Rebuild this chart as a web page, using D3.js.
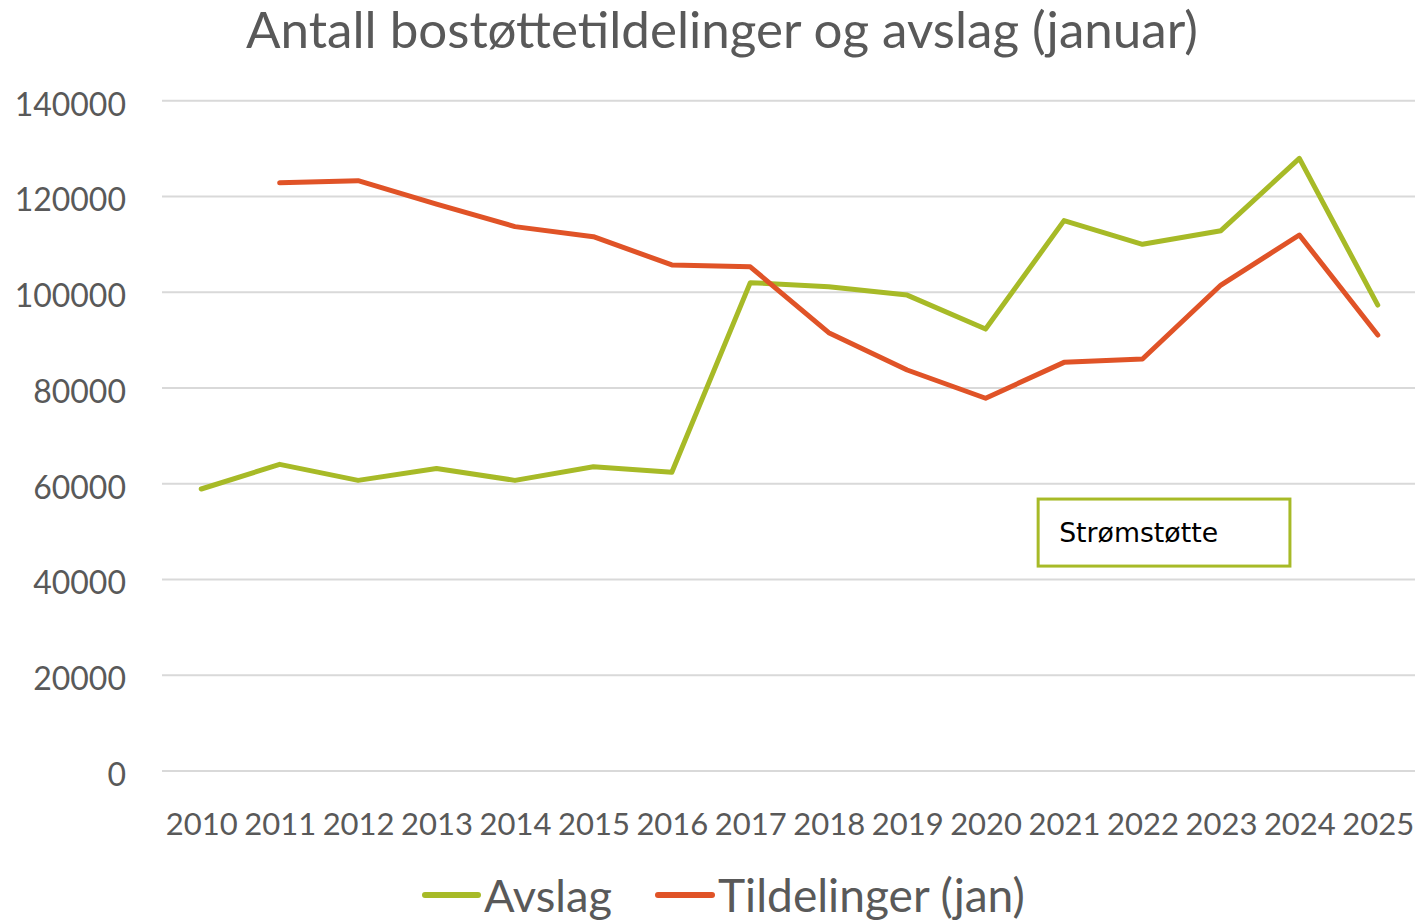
<!DOCTYPE html>
<html>
<head>
<meta charset="utf-8">
<script src="https://cdn.jsdelivr.net/npm/d3@7"></script>
<style>
  body { margin: 0; background: #fff; }
  svg { display: block; font-family: Lato, "Open Sans", sans-serif; }
  .gridlines line { stroke: #d9d9d9; stroke-width: 2; }
  .yaxis text, .xaxis text { fill: #595959; }
</style>
</head>
<body>
<div id="container"></div>
<script>
const WIDTH = 1421;
const HEIGHT = 922;

const years = ["2010", "2011", "2012", "2013", "2014", "2015", "2016", "2017",
  "2018", "2019", "2020", "2021", "2022", "2023", "2024", "2025"];
const avslag = [58900, 64050, 60700, 63200, 60700, 63550, 62400, 102000,
  101150, 99400, 92300, 114950, 110000, 112850, 127950, 97300];
const tildelinger = [null, 122850, 123300, 118400, 113700, 111600, 105700, 105300,
  91550, 83750, 77850, 85350, 86050, 101500, 111950, 91050];
const yTicks = [0, 20000, 40000, 60000, 80000, 100000, 120000, 140000];
const seriesNames = ["Avslag", "Tildelinger (jan)"];
const seriesColors = ["#a7ba27", "#e05327"];
const title = "Antall bostøttetildelinger og avslag (januar)";
const note = "Strømstøtte";

const LEFT = 162, RIGHT = 1417, TOP = 100.7, BOTTOM = 771;

const svg = d3.select("#container").append("svg")
  .attr("width", WIDTH).attr("height", HEIGHT);

const x = d3.scalePoint().domain(years).range([LEFT, RIGHT]).padding(0.5);
const xi = d3.scaleLinear().domain([0, years.length - 1])
  .range([x(years[0]), x(years[years.length - 1])]);
const y = d3.scaleLinear().domain([0, 140000]).range([BOTTOM, TOP]);

// shrink/grow a text node so it spans a given width
function fit(sel, width) {
  const node = sel.node();
  const fs = parseFloat(sel.style("font-size"));
  const w = node.getComputedTextLength();
  sel.style("font-size", (fs * width / w).toFixed(2) + "px");
  return sel;
}

// title
svg.append("text")
  .attr("x", 246).attr("y", 48)
  .style("font-size", "42px").style("fill", "#595959")
  .text(title)
  .call(fit, 952);

// grid lines
svg.append("g")
  .attr("class", "gridlines")
  .selectAll("line")
  .data(yTicks)
  .join("line")
  .attr("x1", LEFT).attr("x2", RIGHT - 2)
  .attr("y1", (d) => y(d)).attr("y2", (d) => y(d));

// y labels
svg.append("g")
  .attr("class", "yaxis")
  .attr("transform", `translate(${LEFT},0)`)
  .call(d3.axisLeft(y).tickValues(yTicks).tickFormat(d3.format("d"))
    .tickSize(0).tickPadding(36))
  .call((g) => g.select(".domain").remove())
  .call((g) => g.selectAll("text").attr("dy", "0.45em")
    .style("font-size", "32px").style("font-family", "Lato, sans-serif"));

// x labels
svg.append("g")
  .attr("class", "xaxis")
  .attr("transform", `translate(0,${BOTTOM})`)
  .call(d3.axisBottom(x).tickSize(0).tickPadding(42))
  .call((g) => g.select(".domain").remove())
  .call((g) => g.selectAll("text").style("font-size", "31px").style("font-family", "Lato, sans-serif"));

// lines
const line = d3.line()
  .defined((d) => d != null)
  .x((d, i) => x(years[i]))
  .y((d) => y(d));

[avslag, tildelinger].forEach((series, k) => {
  svg.append("path")
    .datum(series)
    .attr("fill", "none")
    .attr("stroke", seriesColors[k])
    .attr("stroke-width", 5)
    .attr("stroke-linecap", "round")
    .attr("stroke-linejoin", "round")
    .attr("d", line);
});

// annotation box
const bx0 = xi(10.67), bx1 = xi(13.88), by0 = y(56800), by1 = y(42800);
svg.append("rect")
  .attr("x", bx0).attr("y", by0)
  .attr("width", bx1 - bx0).attr("height", by1 - by0)
  .attr("fill", "#fff")
  .attr("stroke", seriesColors[0])
  .attr("stroke-width", 3);
svg.append("text")
  .attr("x", bx0 + 21).attr("y", (by0 + by1) / 2 + 9)
  .style("font-family", "'DejaVu Sans', sans-serif")
  .style("font-size", "25px").style("fill", "#000")
  .text(note)
  .call(fit, 159);

// legend
const legendItems = [
  { x0: 425, x1: 478, tx: 484, tw: 128 },
  { x0: 658, x1: 712, tx: 718, tw: 307 },
];
legendItems.forEach((it, k) => {
  svg.append("line")
    .attr("x1", it.x0).attr("x2", it.x1)
    .attr("y1", 895).attr("y2", 895)
    .attr("stroke", seriesColors[k]).attr("stroke-width", 6)
    .attr("stroke-linecap", "round");
  svg.append("text")
    .attr("x", it.tx).attr("y", 912)
    .style("font-size", "42px").style("fill", "#595959")
    .text(seriesNames[k])
    .call(fit, it.tw);
});
</script>
</body>
</html>
